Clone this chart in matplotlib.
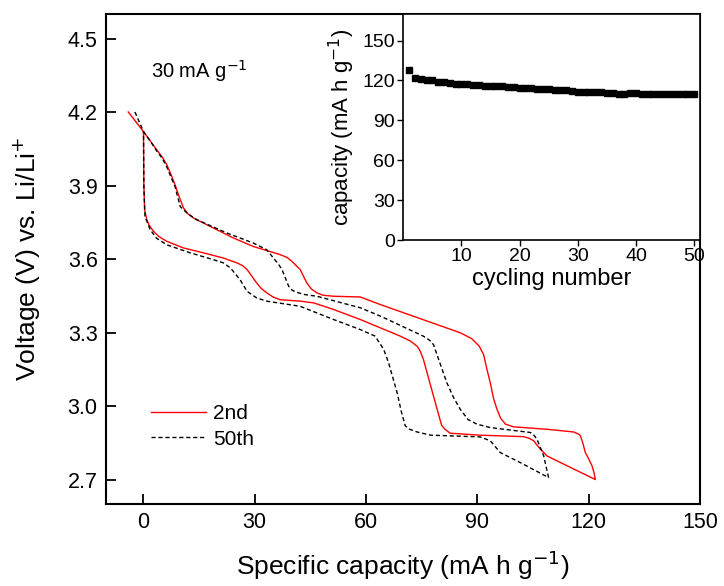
import matplotlib
matplotlib.use("Agg")
import matplotlib.pyplot as plt

plt.rcParams['font.family'] = ['Liberation Sans', 'DejaVu Sans']

# 2nd cycle (red) - one loop: discharge branch then back along the lower branch
cap_2nd = [-4, 0.1, 2, 3.7, 5.2, 6.4, 7.5, 8.6, 9.8, 10.9, 12, 13.6, 19, 24.3, 29.7, 36.9,
           38.8, 40.1, 42.3, 44.1, 45.3, 46.8, 48.5, 51.3, 58.5, 63.9, 85.4, 88.5, 90.5, 91.7,
           92.6, 93.5, 94.4, 95.3, 96.3, 97.6, 99.8, 108.8, 116, 117.3, 117.8, 118.5, 119.1,
           120, 120.9, 121.5, 121.8,
           114.2, 108.8, 107, 106, 105.2, 104, 102.5, 90.8, 82.7, 81.3, 80.4, 79.5, 78.2,
           75.5, 74.6, 73.8, 72, 69.3, 63.9, 58.5, 51.3, 45.9, 42.3, 36.9, 35, 33.3, 31.8,
           30.6, 28, 26.8, 25.3, 21.6, 16.3, 10.9, 6.4, 4.2, 2.8, 1.6, 1.0, 0.4, 0.2, 0.1]
volt_2nd = [4.20, 4.12, 4.08, 4.045, 4.015, 3.984, 3.945, 3.903, 3.85, 3.808, 3.785, 3.767,
            3.726, 3.686, 3.651, 3.618, 3.606, 3.590, 3.557, 3.502, 3.478, 3.462, 3.452,
            3.448, 3.445, 3.414, 3.299, 3.275, 3.245, 3.210, 3.15, 3.095, 3.03, 2.987, 2.950,
            2.926, 2.915, 2.905, 2.894, 2.885, 2.878, 2.845, 2.810, 2.785, 2.756, 2.725, 2.700,
            2.756, 2.796, 2.824, 2.842, 2.858, 2.868, 2.875, 2.881, 2.889, 2.905, 2.921, 2.97,
            3.041, 3.190, 3.225, 3.244, 3.265, 3.285, 3.319, 3.353, 3.394, 3.421, 3.428,
            3.434, 3.445, 3.462, 3.48, 3.502, 3.557, 3.573, 3.584, 3.604, 3.625, 3.645, 3.672,
            3.692, 3.713, 3.738, 3.760, 3.801, 3.9, 4.12]

# 50th cycle (black dashed)
cap_50th = [-2.2, 0.1, 2, 3.7, 5.2, 6.4, 7.5, 8.6, 10, 12, 14.5, 22.6, 29.7, 33.3, 35.1,
            36.4, 37.4, 39.2, 40.2, 41.4, 43.5, 46.8, 58.5, 63.9, 75.5, 77.2, 78.2, 79.6,
            81.8, 83.6, 85.4, 87.5, 89.9, 93.5, 104.3, 105.3, 106.1, 107.9, 109.2,
            101.6, 96.2, 94.8, 93.5, 90.8, 77.4, 73.8, 71.8, 70.6, 69.5, 68.4, 66.1, 64.8,
            62.5, 58.5, 51.3, 42.3, 33.3, 30.6, 28, 26.1, 23.5, 21.5, 19, 12.7, 6.4, 3.6,
            1.9, 0.5, 0.2, 0.1]
volt_50th = [4.20, 4.12, 4.08, 4.04, 4.01, 3.975, 3.935, 3.895, 3.814, 3.785, 3.760, 3.706,
             3.665, 3.638, 3.604, 3.580, 3.557, 3.489, 3.472, 3.464, 3.455, 3.448, 3.401,
             3.367, 3.285, 3.268, 3.251, 3.190, 3.095, 3.035, 2.987, 2.945, 2.926, 2.912,
             2.892, 2.880, 2.864, 2.796, 2.708,
             2.769, 2.810, 2.835, 2.858, 2.874, 2.881, 2.894, 2.905, 2.919, 2.98, 3.055,
             3.177, 3.231, 3.285, 3.312, 3.353, 3.407, 3.428, 3.441, 3.468, 3.516, 3.564,
             3.585, 3.597, 3.625, 3.658, 3.685, 3.720, 3.774, 3.9, 4.12]

# cycling performance (inset)
cycle_no = list(range(1, 51))
cycle_cap = [128, 121.5, 121, 120.5, 120, 118.5, 118.5, 118, 117.5, 117.5,
             117, 116.5, 116.5, 116, 115.5, 115.5, 115.5, 115, 115, 114,
             114, 114, 113.5, 113.5, 113.5, 113, 112.5, 112.5, 112, 111.5,
             111, 111, 111, 111, 110.5, 110.5, 110, 110, 110.5, 110.5,
             110, 110, 110, 110, 110, 110, 109.5, 109.5, 109.5, 109.5]

fig = plt.figure(figsize=(7.24, 5.86), dpi=100)
ax = fig.add_axes([0.1464, 0.1399, 0.8205, 0.8362])

ax.plot(cap_2nd, volt_2nd, color='red', lw=1.0, label='2nd')
ax.plot(cap_50th, volt_50th, color='black', lw=1.0, dashes=(3, 2), label='50th')

ax.set_xlim(-10, 150)
ax.set_ylim(2.6, 4.6)
ax.set_xticks([0, 30, 60, 90, 120, 150])
ax.set_yticks([2.7, 3.0, 3.3, 3.6, 3.9, 4.2, 4.5])
ax.tick_params(direction='in', length=7, width=1.3, labelsize=15.5, pad=6)
for s in ax.spines.values():
    s.set_linewidth(1.5)
ax.set_xlabel('Specific capacity (mA h g$^{-1}$)', fontsize=19, labelpad=11)
ax.set_ylabel('Voltage (V) vs. Li/Li$^{+}$', fontsize=19, labelpad=18)
ax.text(2, 4.34, '30 mA g$^{-1}$', fontsize=14.5)
ax.legend(loc='lower left', bbox_to_anchor=(0.045, 0.075), frameon=False, fontsize=15,
          handlelength=2.6, handletextpad=0.35, labelspacing=0.3)

# inset
ins = fig.add_axes([0.557, 0.5904, 0.4099, 0.3857])
ins.plot(cycle_no, cycle_cap, 's', color='black', ms=5)
ins.set_xlim(0, 51)
ins.set_ylim(0, 170)
ins.set_xticks([10, 20, 30, 40, 50])
ins.set_yticks([0, 30, 60, 90, 120, 150])
ins.tick_params(direction='out', length=4, width=1.0, labelsize=14, pad=2)
for s in ins.spines.values():
    s.set_linewidth(1.2)
ins.set_xlabel('cycling number', fontsize=17, labelpad=2)
ins.set_ylabel('capacity (mA h g$^{-1}$)', fontsize=16, labelpad=4)

fig.savefig('out.png', dpi=100)
